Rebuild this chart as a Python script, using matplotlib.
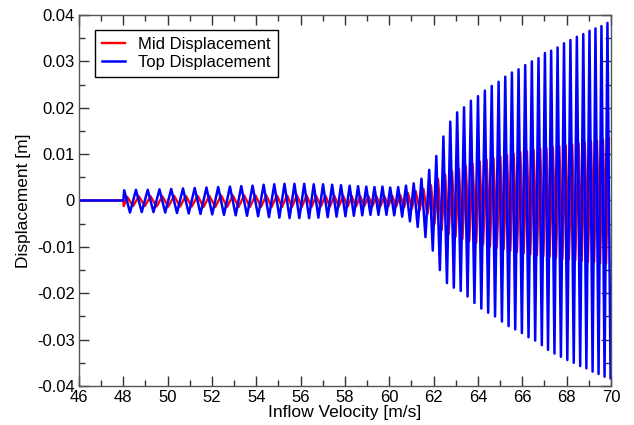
import matplotlib
matplotlib.use("Agg")
import matplotlib.pyplot as plt
from matplotlib.ticker import MultipleLocator, FuncFormatter

plt.rcParams['font.family'] = ['Liberation Sans', 'DejaVu Sans']
plt.rcParams['axes.unicode_minus'] = False

# ---- data ----
x_start = [46.0, 48.0]            # flat zero segment before onset
y_start = [0.0, 0.0]

# Top displacement: velocities of successive maxima and following minima
peak_x = [48.04, 48.57, 49.10, 49.63, 50.16, 50.69, 51.22, 51.75, 52.28, 52.81, 53.32,
          53.83, 54.33, 54.81, 55.27, 55.72, 56.16, 56.59, 57.01, 57.42, 57.82,
          58.21, 58.59, 58.96, 59.33, 59.69, 60.04, 60.40, 60.75, 61.10, 61.45,
          61.80, 62.12, 62.44, 62.75, 63.06, 63.37, 63.68, 64.00, 64.31, 64.62,
          64.93, 65.23, 65.53, 65.83, 66.13, 66.43, 66.73, 67.02, 67.30, 67.59,
          67.88, 68.17, 68.46, 68.75, 69.03, 69.30, 69.57, 69.84]
trough_x = [48.30, 48.83, 49.36, 49.89, 50.42, 50.95, 51.48, 52.01, 52.54, 53.07, 53.58,
            54.08, 54.57, 55.04, 55.50, 55.94, 56.38, 56.80, 57.22, 57.62, 58.02,
            58.40, 58.78, 59.15, 59.51, 59.87, 60.22, 60.58, 60.93, 61.28, 61.63,
            61.96, 62.28, 62.60, 62.91, 63.22, 63.53, 63.84, 64.15, 64.46, 64.77,
            65.08, 65.38, 65.68, 65.98, 66.28, 66.58, 66.88, 67.16, 67.45, 67.74,
            68.03, 68.32, 68.61, 68.89, 69.17, 69.44, 69.71, 69.98]
top_at_peak = [0.0022, 0.0023, 0.0023, 0.0024, 0.0025, 0.0026, 0.0027, 0.0028, 0.0029, 0.0030, 0.0031,
               0.0032, 0.0034, 0.0035, 0.0036, 0.0036, 0.0036, 0.0035, 0.0035, 0.0034, 0.0033,
               0.0032, 0.0031, 0.0030, 0.0029, 0.0030, 0.0028, 0.0029, 0.0032, 0.0037, 0.0047,
               0.0066, 0.0096, 0.0138, 0.0170, 0.0190, 0.0201, 0.0215, 0.0225, 0.0237, 0.0247,
               0.0256, 0.0267, 0.0276, 0.0283, 0.0292, 0.0300, 0.0307, 0.0318, 0.0323, 0.0330,
               0.0339, 0.0346, 0.0353, 0.0359, 0.0366, 0.0371, 0.0376, 0.0383]
top_at_trough = [-0.0026, -0.0025, -0.0025, -0.0026, -0.0027, -0.0028, -0.0029, -0.0030, -0.0031, -0.0032, -0.0033,
                 -0.0034, -0.0036, -0.0037, -0.0038, -0.0038, -0.0038, -0.0037, -0.0036, -0.0035, -0.0034,
                 -0.0033, -0.0032, -0.0031, -0.0031, -0.0031, -0.0032, -0.0035, -0.0045, -0.0057, -0.0079,
                 -0.0108, -0.0150, -0.0178, -0.0188, -0.0195, -0.0207, -0.0221, -0.0233, -0.0242, -0.0250,
                 -0.0261, -0.0271, -0.0278, -0.0286, -0.0295, -0.0302, -0.0312, -0.0322, -0.0330, -0.0337,
                 -0.0344, -0.0350, -0.0357, -0.0362, -0.0369, -0.0374, -0.0380, -0.0383]

# Mid displacement (lags the top by about a quarter cycle): its own minima and maxima
mid_trough_x = [48.02, 48.44, 48.97, 49.50, 50.03, 50.56, 51.09, 51.62, 52.15, 52.68, 53.20,
                53.71, 54.21, 54.69, 55.16, 55.61, 56.05, 56.49, 56.91, 57.32, 57.72,
                58.12, 58.50, 58.87, 59.24, 59.60, 59.96, 60.31, 60.67, 61.02, 61.37,
                61.72, 62.04, 62.36, 62.68, 62.99, 63.30, 63.61, 63.92, 64.23, 64.54,
                64.85, 65.16, 65.46, 65.76, 66.06, 66.36, 66.66, 66.95, 67.23, 67.52,
                67.81, 68.10, 68.39, 68.68, 68.96, 69.24, 69.51, 69.78]
mid_peak_x = [48.17, 48.70, 49.23, 49.76, 50.29, 50.82, 51.35, 51.88, 52.41, 52.94, 53.45,
              53.96, 54.45, 54.93, 55.39, 55.83, 56.27, 56.70, 57.12, 57.52, 57.92,
              58.31, 58.69, 59.06, 59.42, 59.78, 60.13, 60.49, 60.84, 61.19, 61.54,
              61.88, 62.20, 62.52, 62.83, 63.14, 63.45, 63.76, 64.08, 64.39, 64.70,
              65.01, 65.31, 65.61, 65.91, 66.21, 66.51, 66.81, 67.09, 67.38, 67.67,
              67.96, 68.25, 68.54, 68.82, 69.10, 69.37, 69.64, 69.91]
mid_at_trough = [-0.0012, -0.0012, -0.0012, -0.0013, -0.0013, -0.0013, -0.0013, -0.0014, -0.0014, -0.0014, -0.0014,
                 -0.0014, -0.0014, -0.0014, -0.0014, -0.0014, -0.0014, -0.0014, -0.0013, -0.0013, -0.0013,
                 -0.0013, -0.0013, -0.0012, -0.0012, -0.0012, -0.0012, -0.0013, -0.0014, -0.0017, -0.0021,
                 -0.0030, -0.0050, -0.0064, -0.0072, -0.0078, -0.0083, -0.0087, -0.0091, -0.0095, -0.0099,
                 -0.0102, -0.0105, -0.0108, -0.0111, -0.0114, -0.0116, -0.0118, -0.0120, -0.0122, -0.0124,
                 -0.0126, -0.0127, -0.0129, -0.0130, -0.0132, -0.0133, -0.0135, -0.0136]
mid_at_peak = [0.0008, 0.0009, 0.0009, 0.0009, 0.0010, 0.0010, 0.0010, 0.0010, 0.0011, 0.0011, 0.0011,
               0.0011, 0.0011, 0.0011, 0.0011, 0.0011, 0.0011, 0.0010, 0.0010, 0.0010, 0.0010,
               0.0009, 0.0009, 0.0009, 0.0009, 0.0009, 0.0010, 0.0012, 0.0016, 0.0020, 0.0025,
               0.0033, 0.0046, 0.0056, 0.0063, 0.0069, 0.0074, 0.0079, 0.0084, 0.0088, 0.0091,
               0.0095, 0.0098, 0.0101, 0.0104, 0.0106, 0.0109, 0.0111, 0.0113, 0.0115, 0.0117,
               0.0119, 0.0121, 0.0123, 0.0125, 0.0127, 0.0129, 0.0131, 0.0134]

x_ticks = [46, 48, 50, 52, 54, 56, 58, 60, 62, 64, 66, 68, 70]
y_ticks = [-0.04, -0.03, -0.02, -0.01, 0.0, 0.01, 0.02, 0.03, 0.04]

# ---- assemble polylines through the extremes ----
top_x = list(x_start)
top_y = list(y_start)
for i in range(len(peak_x)):
    top_x += [peak_x[i], trough_x[i]]
    top_y += [top_at_peak[i], top_at_trough[i]]

mid_x = list(x_start)
mid_y = list(y_start)
for i in range(len(mid_peak_x)):
    mid_x += [mid_trough_x[i], mid_peak_x[i]]
    mid_y += [mid_at_trough[i], mid_at_peak[i]]

fig = plt.figure(figsize=(6.34, 4.25), dpi=100)
ax = fig.add_axes([0.1246, 0.0918, 0.8391, 0.8729])

ax.plot(mid_x, mid_y, color='#ff0000', lw=1.7, label='Mid Displacement', solid_joinstyle='round')
ax.plot(top_x, top_y, color='#0000ff', lw=1.8, label='Top Displacement', solid_joinstyle='round')

ax.set_xlim(46, 70)
ax.set_ylim(-0.04, 0.04)
ax.set_xticks(x_ticks)
ax.set_yticks(y_ticks)
ax.xaxis.set_minor_locator(MultipleLocator(1))
ax.yaxis.set_minor_locator(MultipleLocator(0.005))
ax.yaxis.set_major_formatter(FuncFormatter(lambda v, p: '0' if abs(v) < 1e-12 else '%g' % v))

ax.tick_params(which='both', direction='in', top=True, right=True, colors='#333333',
               labelcolor='black', labelsize=12, width=1.0)
ax.tick_params(which='major', length=7, pad=3)
ax.tick_params(which='minor', length=4)
for s in ax.spines.values():
    s.set_color('#555555')
    s.set_linewidth(1.0)

ax.set_xlabel('Inflow Velocity [m/s]', fontsize=12.5, labelpad=0)
ax.set_ylabel('Displacement [m]', fontsize=12.5, labelpad=4)

leg = ax.legend(loc='upper left', bbox_to_anchor=(0.030, 0.96), borderaxespad=0,
                fontsize=12, fancybox=False, framealpha=1, edgecolor='black',
                handlelength=1.4, handletextpad=0.8, borderpad=0.4, labelspacing=0.2)
leg.get_frame().set_linewidth(1.0)

fig.savefig('out.png', dpi=100)
